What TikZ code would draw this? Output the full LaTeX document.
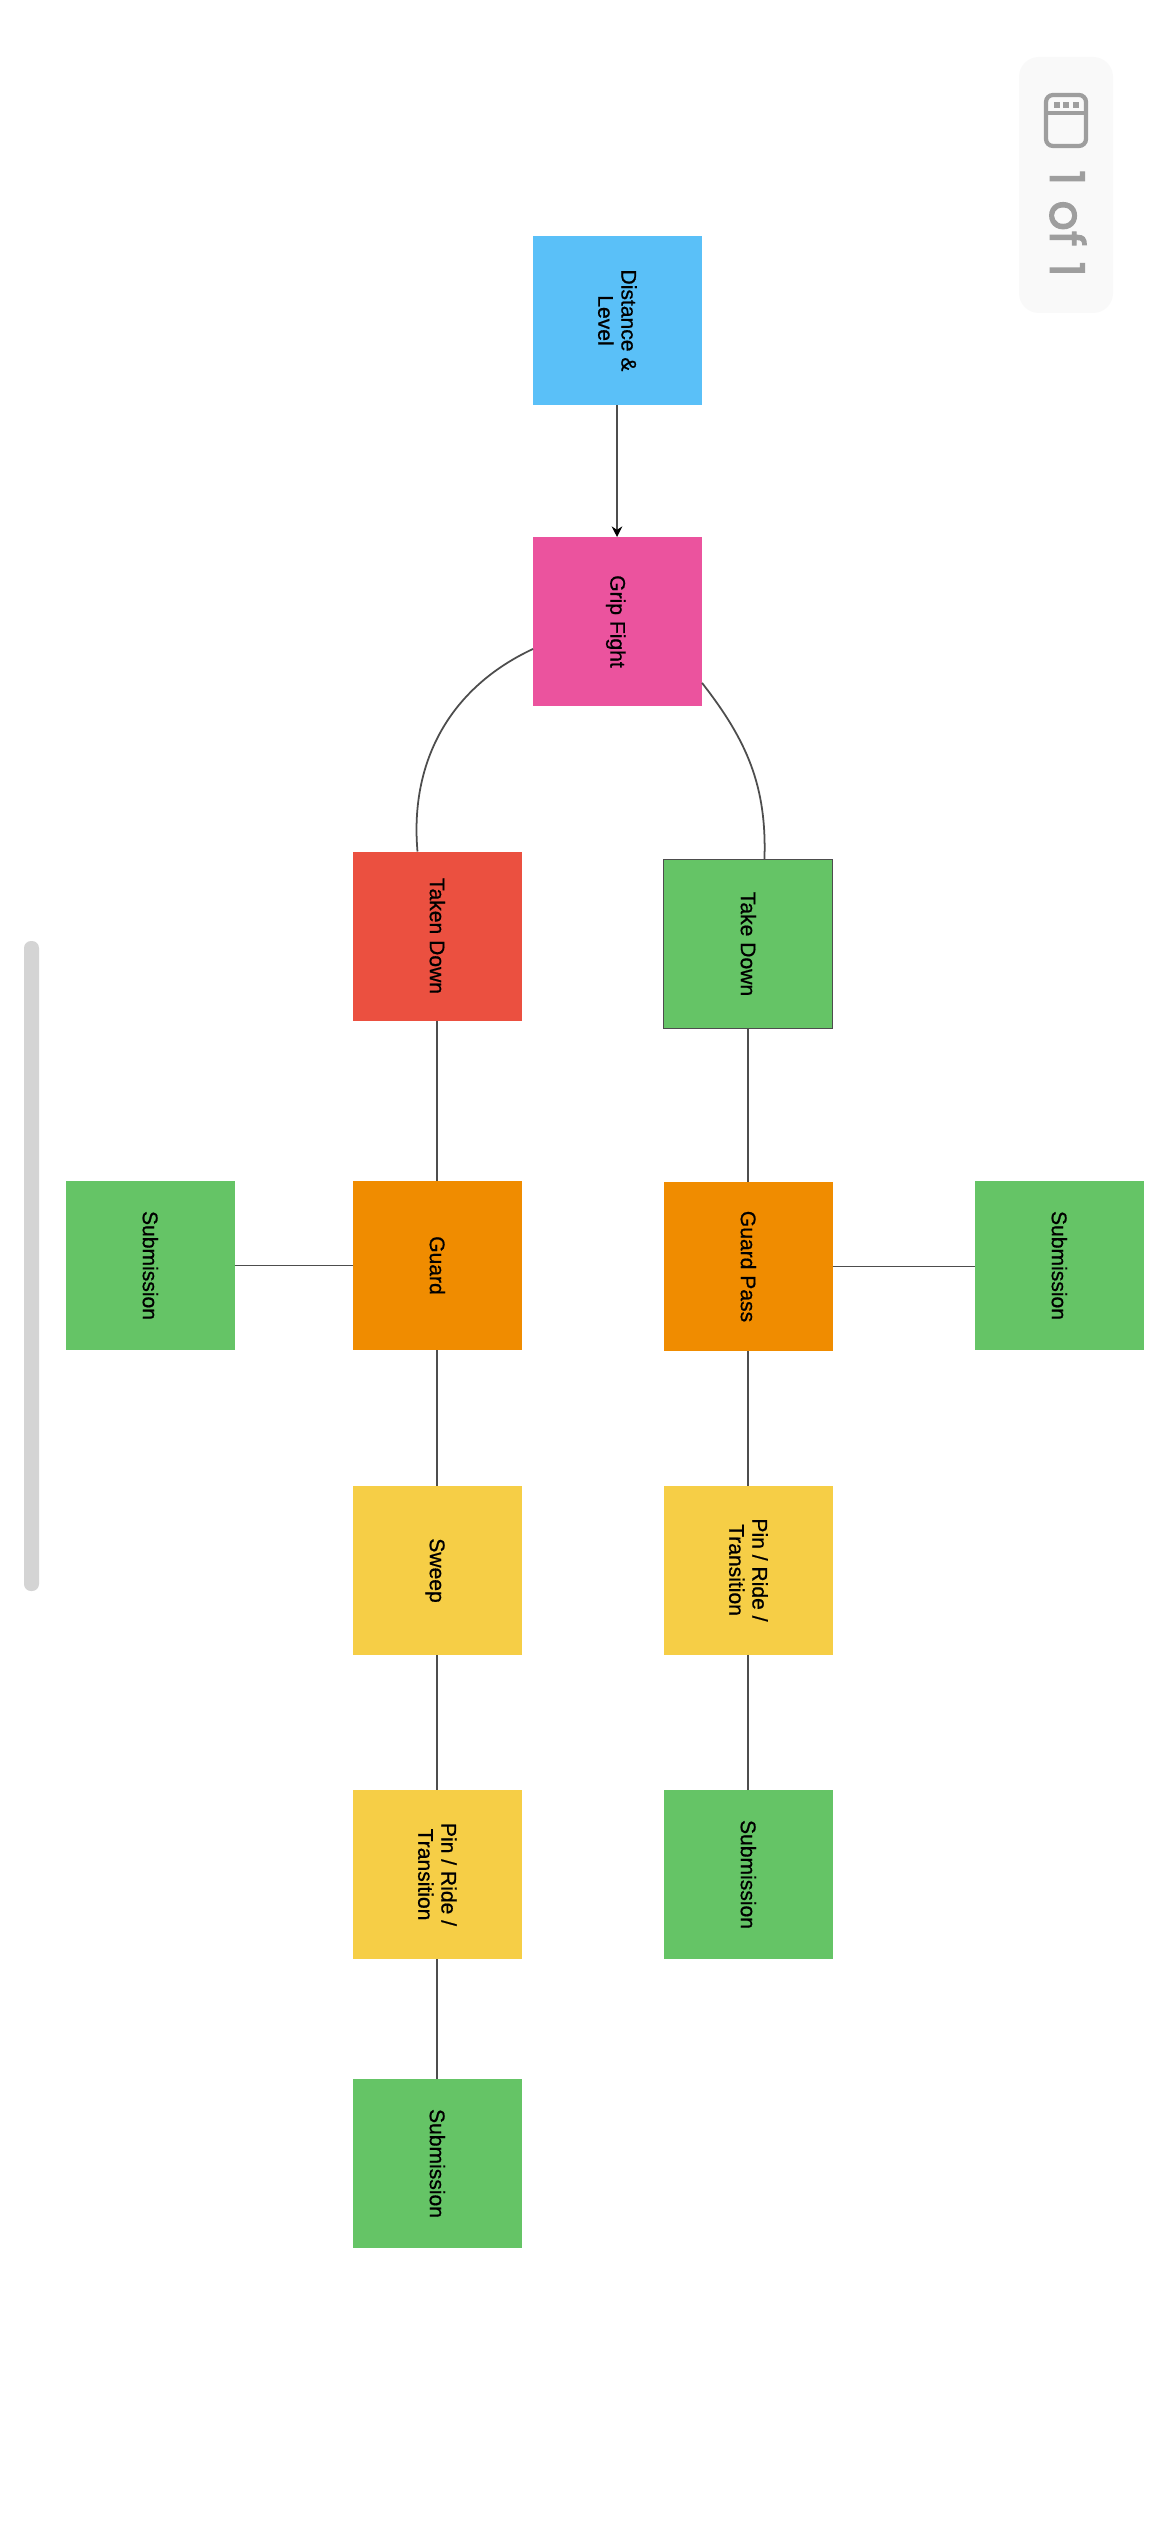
\documentclass[tikz,border=0pt]{standalone}
\usepackage{fontspec}
\setmainfont{Liberation Sans}[FakeBold=0.8]
\newfontfamily\pagerfont{Poppins}[FakeBold=2.5,WordSpace=1.2]
\usepackage{graphicx}
\usetikzlibrary{arrows.meta}
\definecolor{distc}{HTML}{5AC0F8}
\definecolor{gripc}{HTML}{EB539E}
\definecolor{lossc}{HTML}{EB5040}
\definecolor{winc}{HTML}{65C466}
\definecolor{guardc}{HTML}{F08C00}
\definecolor{pinc}{HTML}{F6CE46}
\definecolor{linkc}{HTML}{4D4D4D}
\definecolor{chromec}{HTML}{9E9E9E}
\newcommand{\sidelabel}[1]{\rotatebox{-90}{\begin{tabular}{@{}c@{}}#1\end{tabular}}\hspace*{0.05cm}}
\tikzset{
  card/.style={minimum width=1.69cm,minimum height=1.69cm,inner sep=0pt,outer sep=0pt,
    font=\fontsize{6}{6.6}\selectfont},
  link/.style={linkc,line width=0.5pt}
}

\begin{document}
\begin{tikzpicture}[scale=1.0]
  \useasboundingbox (0,0) rectangle (11.66,-25.32);
  % page chrome
  \fill[white] (0,0) rectangle (11.66,-25.32);
  \fill[black!17,rounded corners=0.07cm] (0.24,-9.41) rectangle (0.39,-15.91);
  \fill[black!2.5,rounded corners=0.2cm] (10.19,-0.57) rectangle (11.13,-3.13);
  \draw[chromec,line width=1.2pt,rounded corners=0.07cm] (10.46,-0.95) rectangle (10.86,-1.46);
  \draw[chromec,line width=1.2pt] (10.46,-1.13) -- (10.86,-1.13);
  \foreach \x in {10.57,10.66,10.76} \fill[chromec] (\x-0.03,-1.02) rectangle (\x+0.03,-1.08);
  \node (pager) [chromec,font=\fontsize{13.5}{13.5}\selectfont\pagerfont] at (10.68,-2.235) {\rotatebox{-90}{1 of 1}};
  % cards
  \node (dist) [card,fill=distc] at (6.17,-3.205) {\sidelabel{Distance \&\\Level}};
  \node (grip) [card,fill=gripc] at (6.175,-6.215) {\sidelabel{Grip Fight}};
  \node (taken) [card,fill=lossc] at (4.37,-9.36) {\sidelabel{Taken Down}};
  \node (take) [card,fill=winc,draw=linkc,line width=0.5pt] at (7.48,-9.44) {\sidelabel{Take Down}};
  \node (guard) [card,fill=guardc] at (4.37,-12.655) {\sidelabel{Guard}};
  \node (gpass) [card,fill=guardc] at (7.48,-12.665) {\sidelabel{Guard Pass}};
  \node (subl) [card,fill=winc] at (1.50,-12.655) {\sidelabel{Submission}};
  \node (subr) [card,fill=winc] at (10.59,-12.655) {\sidelabel{Submission}};
  \node (sweep) [card,fill=pinc] at (4.37,-15.705) {\sidelabel{Sweep}};
  \node (pinr) [card,fill=pinc] at (7.48,-15.70) {\sidelabel{Pin / Ride /\\Transition}};
  \node (pinl) [card,fill=pinc] at (4.37,-18.745) {\sidelabel{Pin / Ride /\\Transition}};
  \node (subpr) [card,fill=winc] at (7.48,-18.745) {\sidelabel{Submission}};
  \node (subpl) [card,fill=winc] at (4.37,-21.635) {\sidelabel{Submission}};
  % connectors
  \draw[link,-{Stealth[length=3pt,width=3pt,black]}] (dist.south) -- (dist.south |- grip.north);
  \draw[link] (grip.198.7) to[out=205,in=95] (taken.103.6);
  \draw[link] (grip.-36.5) to[out=-52,in=88,looseness=1.0] (take.79);
  \foreach \a/\b in {taken/guard,guard/sweep,sweep/pinl,pinl/subpl,take/gpass,gpass/pinr,pinr/subpr}
    \draw[link] (\a.south) -- (\b.north);
  \draw[link] (subl.east) -- (guard.west);
  \draw[link] (gpass.east) -- (subr.west |- gpass.east);
\end{tikzpicture}
\end{document}
